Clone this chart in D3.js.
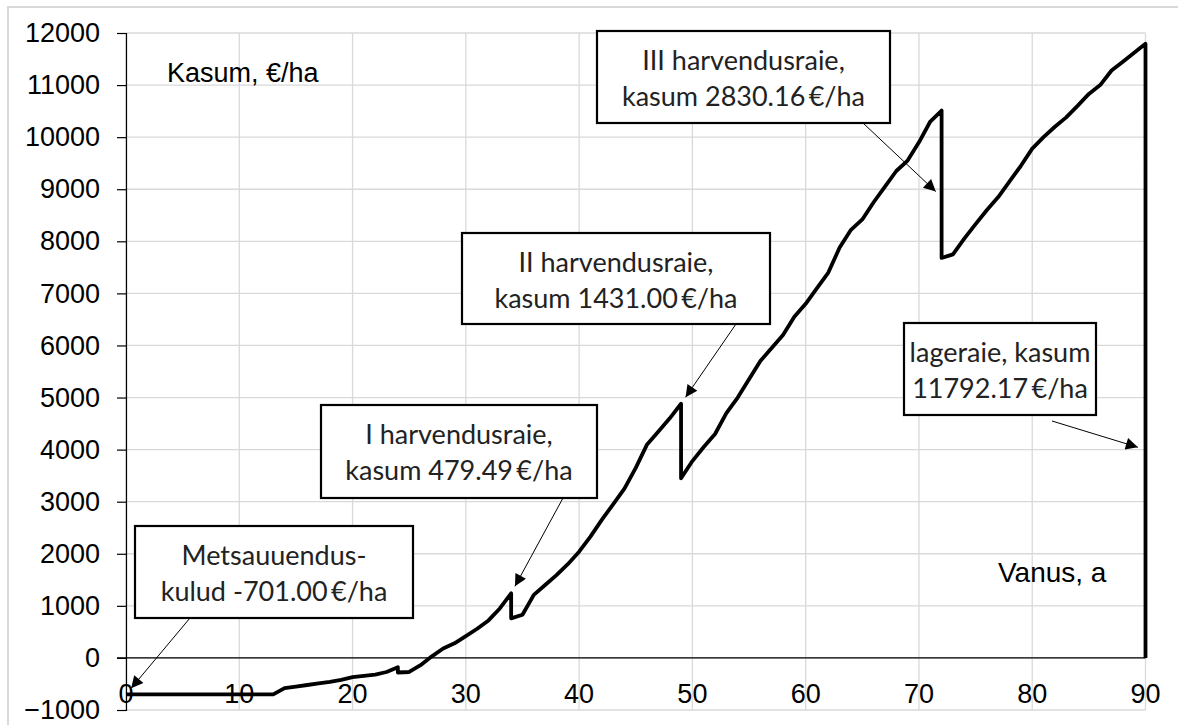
<!DOCTYPE html>
<html>
<head>
<meta charset="utf-8">
<script src="https://cdn.jsdelivr.net/npm/d3@7"></script>
<style>
  body { margin: 0; background: #fff; }
  svg { display: block; }
</style>
</head>
<body>
<div id="chart"></div>
<script>
// data: age (years) and cumulative profit (€/ha); repeated ages are thinning / clearcut drops
const ages = [0,1,2,3,4,5,6,7,8,9,10,11,12,13,14,15,16,17,18,19,20,21,22,23,24,24,25,26,27,28,29,30,
  31,32,33,34,34,35,36,37,38,39,40,41,42,43,44,45,46,47,48,49,49,50,51,52,53,54,55,56,57,58,59,60,
  61,62,63,64,65,66,67,68,69,70,71,72,72,73,74,75,76,77,78,79,80,81,82,83,84,85,86,87,88,89,90,90];
const kasum = [-701,-701,-701,-701,-701,-701,-701,-701,-701,-701,-701,-701,-701,-701,-580,-550,-520,-490,-460,-420,
  -370,-345,-320,-270,-180,-280,-270,-140,30,180,280,420,
  560,720,950,1240,760,830,1210,1400,1590,1800,2040,2330,2650,2950,3250,3650,4100,4350,4600,4880,3450,3780,4050,4300,4700,5000,5350,5700,5950,6200,6550,6800,
  7100,7400,7880,8220,8420,8750,9050,9350,9550,9900,10300,10510,7680,7750,8050,8330,8600,8850,9150,9450,9780,10000,10200,10380,10600,10830,11000,11280,11450,11620,11792.17,0];

const xTicks = [0,10,20,30,40,50,60,70,80,90];
const yTicks = [-1000,0,1000,2000,3000,4000,5000,6000,7000,8000,9000,10000,11000,12000];

const noteLines = [
  ["Metsauuendus-", "kulud -701.00\u2009€/ha"],
  ["I harvendusraie,", "kasum 479.49\u2009€/ha"],
  ["II harvendusraie,", "kasum 1431.00\u2009€/ha"],
  ["III harvendusraie,", "kasum 2830.16\u2009€/ha"],
  ["lageraie, kasum", "11792.17\u2009€/ha"]
];
const noteAge = [0, 34, 49, 72, 90];
const noteValue = [-701, 1240, 4880, 8850, 4000];

const W = 1178, H = 725;
const x = d3.scaleLinear().domain([0, 90]).range([126, 1145.5]);
const y = d3.scaleLinear().domain([-1000, 12000]).range([710, 33]);

const svg = d3.select("#chart").append("svg")
  .attr("width", W).attr("height", H);

// chart frame
svg.append("rect")
  .attr("x", 8).attr("y", 7).attr("width", W).attr("height", H)
  .attr("fill", "none").attr("stroke", "#d9d9d9").attr("stroke-width", 2);

// grid
svg.append("g").selectAll("line").data(yTicks).join("line")
  .attr("x1", x(0)).attr("x2", x(90))
  .attr("y1", d => y(d)).attr("y2", d => y(d))
  .attr("stroke", "#d9d9d9").attr("stroke-width", 1.3);
svg.append("g").selectAll("line").data(xTicks).join("line")
  .attr("x1", d => x(d)).attr("x2", d => x(d))
  .attr("y1", y(-1000)).attr("y2", y(12000))
  .attr("stroke", "#d9d9d9").attr("stroke-width", 1.3);

// y axis
const yAxis = svg.append("g")
  .attr("transform", `translate(${x(0)},0)`)
  .call(d3.axisLeft(y).tickValues(yTicks).tickSize(9).tickPadding(17).tickFormat(d3.format("d")));
yAxis.select(".domain").attr("stroke", "#000").attr("stroke-width", 1.2);
yAxis.selectAll(".tick line").attr("stroke", "#000").attr("stroke-width", 1.2);
yAxis.selectAll("text")
  .attr("font-family", "Liberation Sans, Arial, sans-serif")
  .attr("font-size", 27).attr("fill", "#000");

// zero line
svg.append("line")
  .attr("x1", x(0) - 9).attr("x2", x(90))
  .attr("y1", y(0)).attr("y2", y(0))
  .attr("stroke", "#000").attr("stroke-width", 1.2);

// x tick labels (low position)
svg.append("g").selectAll("text").data(xTicks).join("text")
  .attr("x", d => x(d)).attr("y", y(-1000) - 7)
  .attr("text-anchor", "middle")
  .attr("font-family", "Liberation Sans, Arial, sans-serif")
  .attr("font-size", 27)
  .text(d => d);

// the line
const line = d3.line().x((d, i) => x(ages[i])).y(d => y(d));
svg.append("path")
  .datum(kasum)
  .attr("fill", "none")
  .attr("stroke", "#000")
  .attr("stroke-width", 3.8)
  .attr("stroke-linejoin", "round")
  .attr("d", line);

// axis titles
svg.append("text")
  .attr("x", 167).attr("y", 82)
  .attr("font-family", "Liberation Sans, Arial, sans-serif")
  .attr("font-size", 27)
  .text("Kasum, €/ha");
svg.append("text")
  .attr("x", 998).attr("y", 582)
  .attr("font-family", "Liberation Sans, Arial, sans-serif")
  .attr("font-size", 28)
  .text("Vanus, a");

// annotation callouts
svg.append("defs").append("marker")
  .attr("id", "arrow")
  .attr("viewBox", "0 0 10 10")
  .attr("refX", 10).attr("refY", 5)
  .attr("markerWidth", 16).attr("markerHeight", 12)
  .attr("markerUnits", "userSpaceOnUse")
  .attr("orient", "auto")
  .append("path").attr("d", "M0,0L10,5L0,10Z").attr("fill", "#000");

// box placement (pixels): left, top, width, height, arrow start x
const boxes = [
  [135, 526, 278, 92, 190],
  [321, 405, 276, 93, 563],
  [462, 233, 308, 91, 736],
  [597, 31, 293, 92, 863],
  [904, 323, 192, 92, 1052]
];

const notes = svg.append("g");
boxes.forEach((b, i) => {
  const [bx, by, bw, bh, ax] = b;
  const tx = x(noteAge[i]), ty = y(noteValue[i]);
  const sx = ax, sy = by + bh + (i === 4 ? 6 : 0);
  const len = Math.hypot(tx - sx, ty - sy);
  const back = 8;
  notes.append("line")
    .attr("x1", sx).attr("y1", sy)
    .attr("x2", tx - (tx - sx) / len * back)
    .attr("y2", ty - (ty - sy) / len * back)
    .attr("stroke", "#000").attr("stroke-width", 1)
    .attr("marker-end", "url(#arrow)");
  notes.append("rect")
    .attr("x", bx).attr("y", by).attr("width", bw).attr("height", bh)
    .attr("fill", "#fff").attr("stroke", "#000").attr("stroke-width", 2.2);
  noteLines[i].forEach((t, j) => {
    notes.append("text")
      .attr("x", bx + bw / 2)
      .attr("y", by + 39 + j * 36)
      .attr("text-anchor", "middle")
      .attr("font-family", "Lato, sans-serif")
      .attr("font-size", 27)
      .attr("fill", "#222")
      .text(t);
  });
});
</script>
</body>
</html>
